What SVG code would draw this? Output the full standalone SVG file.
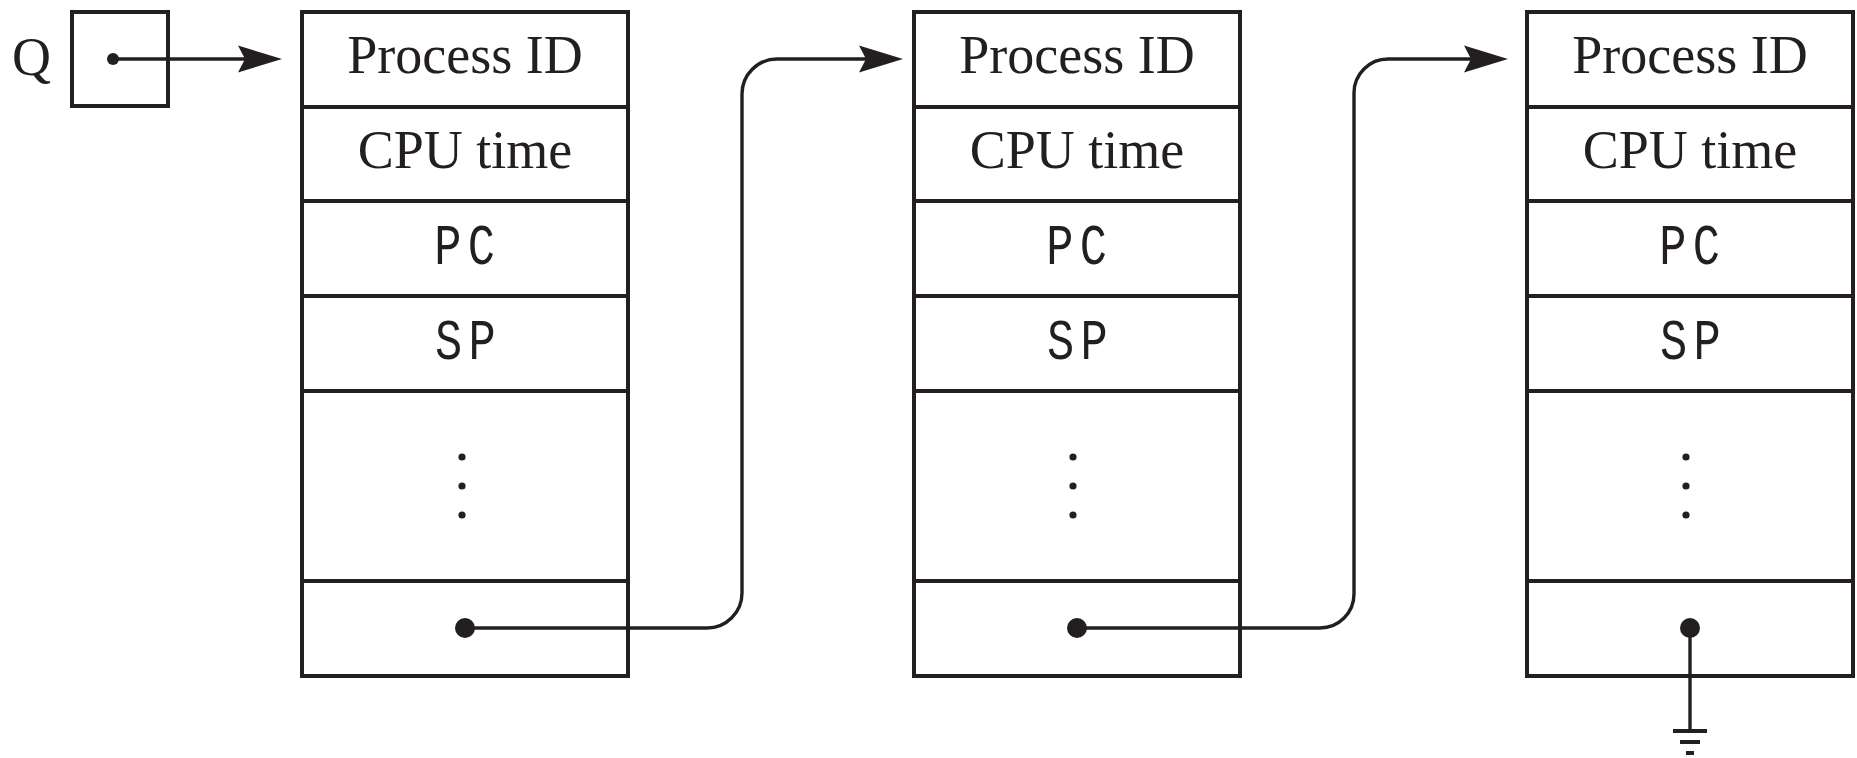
<svg xmlns="http://www.w3.org/2000/svg" width="1857" height="758" viewBox="0 0 1857 758">
<style>
.box{fill:none;stroke:#231f20;stroke-width:4}
.div{stroke:#231f20;stroke-width:4}
.serif{font-family:"Liberation Serif","Times New Roman",serif;font-size:54px;fill:#231f20;text-anchor:middle}
.mono{font-family:"Liberation Mono","DejaVu Sans Mono",monospace;font-size:58px;fill:#231f20;text-anchor:middle}
.dot{fill:#231f20}
.conn{fill:none;stroke:#231f20;stroke-width:3.4}
</style>
<defs>
<marker id="arr" markerUnits="userSpaceOnUse" markerWidth="46" markerHeight="30" refX="14" refY="13.5" orient="auto" overflow="visible">
<path d="M0,0 L44,13.5 L0,27 L7,13.5 Z" fill="#231f20"/>
</marker>
</defs>
<rect width="1857" height="758" fill="#ffffff"/>
<g id="q">
<text x="12" y="75" font-family="Liberation Serif, serif" font-size="54" fill="#231f20">Q</text>
<rect class="box" x="72" y="12" width="96" height="94"/>
<circle class="dot" cx="113" cy="59" r="6"/>
</g>
<g id="pcb1">
<rect class="box" x="302" y="12" width="326" height="664"/>
<line class="div" x1="302" y1="107" x2="628" y2="107"/>
<line class="div" x1="302" y1="201" x2="628" y2="201"/>
<line class="div" x1="302" y1="296" x2="628" y2="296"/>
<line class="div" x1="302" y1="391" x2="628" y2="391"/>
<line class="div" x1="302" y1="581" x2="628" y2="581"/>
<text class="serif" x="465" y="73">Process ID</text>
<text class="serif" x="465" y="168">CPU time</text>
<text class="mono" transform="translate(465,0) scale(0.78,1)" x="-22 21" y="264">PC</text>
<text class="mono" transform="translate(465,0) scale(0.78,1)" x="-21 22" y="359">SP</text>
<circle class="dot" cx="462" cy="457" r="3.6"/>
<circle class="dot" cx="462" cy="486" r="3.6"/>
<circle class="dot" cx="462" cy="515" r="3.6"/>
<circle class="dot" cx="465" cy="628" r="10"/>
</g>
<g id="pcb2">
<rect class="box" x="914" y="12" width="326" height="664"/>
<line class="div" x1="914" y1="107" x2="1240" y2="107"/>
<line class="div" x1="914" y1="201" x2="1240" y2="201"/>
<line class="div" x1="914" y1="296" x2="1240" y2="296"/>
<line class="div" x1="914" y1="391" x2="1240" y2="391"/>
<line class="div" x1="914" y1="581" x2="1240" y2="581"/>
<text class="serif" x="1077" y="73">Process ID</text>
<text class="serif" x="1077" y="168">CPU time</text>
<text class="mono" transform="translate(1077,0) scale(0.78,1)" x="-22 21" y="264">PC</text>
<text class="mono" transform="translate(1077,0) scale(0.78,1)" x="-21 22" y="359">SP</text>
<circle class="dot" cx="1073" cy="457" r="3.6"/>
<circle class="dot" cx="1073" cy="486" r="3.6"/>
<circle class="dot" cx="1073" cy="515" r="3.6"/>
<circle class="dot" cx="1077" cy="628" r="10"/>
</g>
<g id="pcb3">
<rect class="box" x="1527" y="12" width="326" height="664"/>
<line class="div" x1="1527" y1="107" x2="1853" y2="107"/>
<line class="div" x1="1527" y1="201" x2="1853" y2="201"/>
<line class="div" x1="1527" y1="296" x2="1853" y2="296"/>
<line class="div" x1="1527" y1="391" x2="1853" y2="391"/>
<line class="div" x1="1527" y1="581" x2="1853" y2="581"/>
<text class="serif" x="1690" y="73">Process ID</text>
<text class="serif" x="1690" y="168">CPU time</text>
<text class="mono" transform="translate(1690,0) scale(0.78,1)" x="-22 21" y="264">PC</text>
<text class="mono" transform="translate(1690,0) scale(0.78,1)" x="-21 22" y="359">SP</text>
<circle class="dot" cx="1686" cy="457" r="3.6"/>
<circle class="dot" cx="1686" cy="486" r="3.6"/>
<circle class="dot" cx="1686" cy="515" r="3.6"/>
<circle class="dot" cx="1690" cy="628" r="10"/>
</g>
<g id="connectors">
<path class="conn" d="M113,59 H252" marker-end="url(#arr)"/>
<path class="conn" d="M465,628 H707 A35,35 0 0 0 742,593 V94 A35,35 0 0 1 777,59 H873" marker-end="url(#arr)"/>
<path class="conn" d="M1077,628 H1320 A34,34 0 0 0 1354,594 V93 A34,34 0 0 1 1388,59 H1478" marker-end="url(#arr)"/>
<path class="conn" d="M1690,628 V731"/>
<g id="ground" fill="#231f20">
<rect x="1673" y="729" width="34" height="4"/>
<rect x="1680" y="740" width="20" height="4"/>
<rect x="1686" y="751" width="8" height="4"/>
</g>
</g>
</svg>
